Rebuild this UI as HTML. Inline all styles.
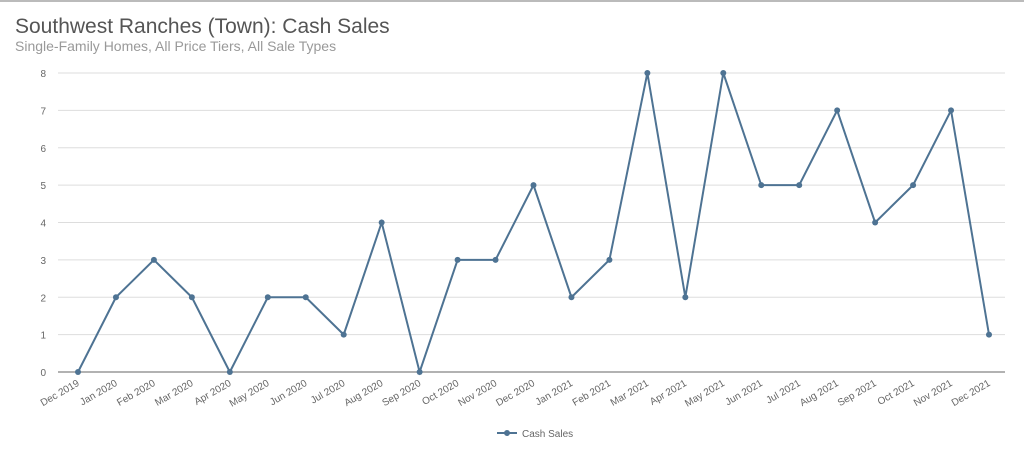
<!DOCTYPE html>
<html><head><meta charset="utf-8"><style>
body{margin:0;background:#fff;font-family:"Liberation Sans",sans-serif;}
svg{display:block}
</style></head><body>
<svg width="1024" height="469" viewBox="0 0 1024 469">
<rect x="0" y="0" width="1024" height="469" fill="#fff"/>
<line x1="0" y1="1" x2="1024" y2="1" stroke="#bbb" stroke-width="2"/>
<text x="15" y="33" font-size="21" fill="#555">Southwest Ranches (Town): Cash Sales</text>
<text x="15" y="51" font-size="14" fill="#999">Single-Family Homes, All Price Tiers, All Sale Types</text>
<g id="grid"></g><g id="xl"></g><g id="series"></g>
<g>
<line x1="497" y1="433" x2="517" y2="433" stroke="#4e7393" stroke-width="2"/>
<circle cx="507" cy="433" r="3" fill="#4e7393"/>
<text x="522" y="437" font-size="10" fill="#666">Cash Sales</text>
</g>
</svg>
<script>
const categories=["Dec 2019","Jan 2020","Feb 2020","Mar 2020","Apr 2020","May 2020","Jun 2020","Jul 2020","Aug 2020","Sep 2020","Oct 2020","Nov 2020","Dec 2020","Jan 2021","Feb 2021","Mar 2021","Apr 2021","May 2021","Jun 2021","Jul 2021","Aug 2021","Sep 2021","Oct 2021","Nov 2021","Dec 2021"];
const cashSales=[0,2,3,2,0,2,2,1,4,0,3,3,5,2,3,8,2,8,5,5,7,4,5,7,1];
const yTicks=[0,1,2,3,4,5,6,7,8];
const NS="http://www.w3.org/2000/svg";
const x0=78,x1=989,y0=372,y8=73;
const xs=i=>x0+(x1-x0)*i/(categories.length-1);
const ys=v=>y0-(y0-y8)*v/8;
function mk(t,a,p){const e=document.createElementNS(NS,t);for(const k in a)e.setAttribute(k,a[k]);p.appendChild(e);return e;}
const g=document.getElementById('grid');
yTicks.forEach(v=>{
 const l=mk('line',{x1:58,x2:1005,y1:ys(v),y2:ys(v),stroke:v===0?'#999':'#ddd','stroke-width':v===0?1.5:1},g);
 
 
 const t=mk('text',{x:46,y:ys(v)+4,'font-size':10,fill:'#666','text-anchor':'end'},g);
 t.textContent=v;
 
 
});
const xl=document.getElementById('xl');
categories.forEach((c,i)=>{
 const x=xs(i)+2,y=385;
 const t=mk('text',{x:x,y:y,'font-size':10,fill:'#666','text-anchor':'end',transform:`rotate(-30 ${x} ${y})`},xl);
 t.textContent=c;
 
 
});
const s=document.getElementById('series');
const pl=mk('polyline',{points:cashSales.map((v,i)=>xs(i)+','+ys(v)).join(' '),fill:'none',stroke:'#4e7393','stroke-width':2},s);


cashSales.forEach((v,i)=>{
 const c=mk('circle',{cx:xs(i),cy:ys(v),r:3,fill:'#4e7393'},s);
 
 
});
</script>
</body></html>
